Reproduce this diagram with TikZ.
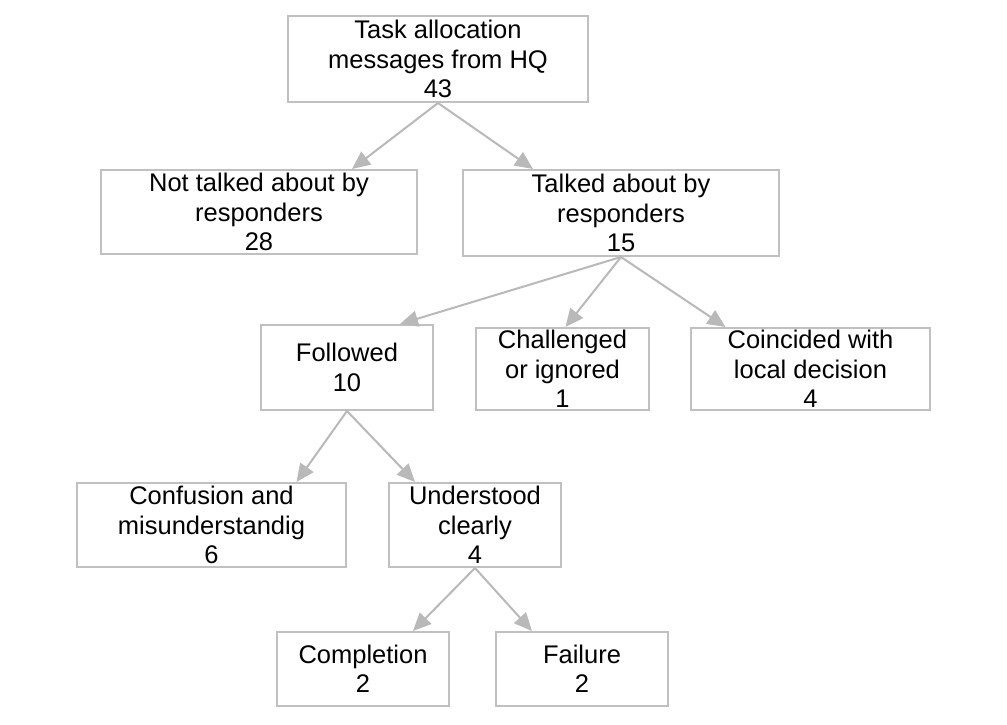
\documentclass[tikz,border=0pt]{standalone}
\usepackage{fontspec}
\setmainfont{Liberation Sans}
\usetikzlibrary{arrows.meta}
\definecolor{edgegray}{RGB}{185,185,185}
\definecolor{bordgray}{RGB}{192,192,192}
\tikzset{
  box/.style={draw=bordgray, line width=2pt, align=center, inner sep=0pt, fill=white,
    font=\fontsize{25.5}{29.3}\selectfont},
  arr/.style={draw=edgegray, line width=2pt, -{Triangle[length=18pt,width=16pt]}}
}
\begin{document}
\begin{tikzpicture}[x=1pt,y=-1pt]
\useasboundingbox[fill=white] (0,0) rectangle (1007,725);
\node[box, minimum width=300pt, minimum height=86pt] (task) at (438,59) {Task allocation\\messages from HQ\\43};
\node[box, minimum width=316pt, minimum height=84pt] (not) at (259,212) {Not talked about by\\responders\\28};
\node[box, minimum width=316pt, minimum height=86pt] (talk) at (621,213) {Talked about by\\responders\\15};
\node[box, minimum width=172pt, minimum height=85pt] (fol) at (347,367.5) {Followed\\10};
\node[box, minimum width=173pt, minimum height=82pt] (chal) at (562.5,369) {Challenged\\or ignored\\1};
\node[box, minimum width=239pt, minimum height=82pt] (coin) at (810.5,369) {Coincided with\\local decision\\4};
\node[box, minimum width=269pt, minimum height=84pt] (conf) at (211.5,525) {Confusion and\\misunderstandig\\6};
\node[box, minimum width=172pt, minimum height=84pt] (und) at (475,525) {Understood\\clearly\\4};
\node[box, minimum width=172pt, minimum height=74pt] (comp) at (363,669) {Completion\\2};
\node[box, minimum width=172pt, minimum height=74pt] (fail) at (582,669) {Failure\\2};
\draw[arr] (task.south) -- ([xshift=93pt]not.north);
\draw[arr] (task.south) -- ([xshift=-88pt]talk.north);
\draw[arr] (talk.south) -- ([xshift=53pt]fol.north);
\draw[arr] (talk.south) -- ([xshift=3pt]chal.north);
\draw[arr] (talk.south) -- ([xshift=-85pt]coin.north);
\draw[arr] (fol.south) -- ([xshift=85pt]conf.north);
\draw[arr] (fol.south) -- ([xshift=-60pt]und.north);
\draw[arr] (und.south) -- ([xshift=50pt]comp.north);
\draw[arr] (und.south) -- ([xshift=-50pt]fail.north);
\end{tikzpicture}
\end{document}
